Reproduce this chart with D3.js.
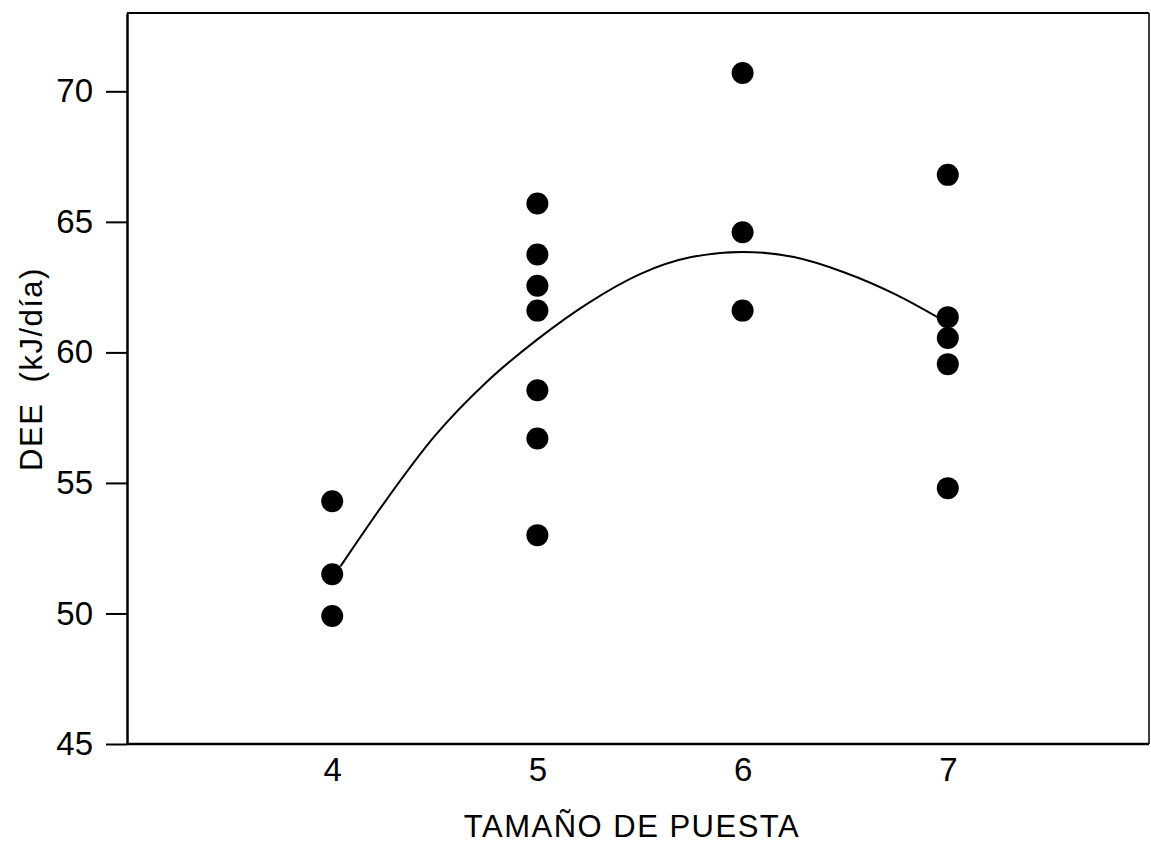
<!DOCTYPE html>
<html>
<head>
<meta charset="utf-8">
<script src="https://cdn.jsdelivr.net/npm/d3@7"></script>
<style>
  html, body { margin: 0; padding: 0; background: #fff; }
  svg { display: block; font-family: "Liberation Sans", Arial, sans-serif; }
</style>
</head>
<body>
<svg id="chart" width="1151" height="844"></svg>
<script>
// ---- data ----
const clutchSizes = [4, 5, 6, 7];
const dee4 = [54.3, 51.5, 49.9];
const dee5 = [65.7, 63.75, 62.55, 61.6, 58.55, 56.7, 53.0];
const dee6 = [70.7, 64.6, 61.6];
const dee7 = [66.8, 61.35, 60.55, 59.55, 54.8];
const fitX = [4.04, 4.25, 4.5, 4.75, 5.0, 5.25, 5.5, 5.75, 6.0, 6.25, 6.5, 6.75, 6.96];
const fitY = [51.8, 54.2, 56.8, 58.85, 60.5, 61.9, 63.0, 63.65, 63.85, 63.65, 63.05, 62.2, 61.3];
const yTicks = [45, 50, 55, 60, 65, 70];
const xTicks = [4, 5, 6, 7];
const xTitle = "TAMAÑO DE PUESTA";
const yTitle = "DEE  (kJ/día)";

// ---- layout ----
const mLeft = 127, mRight = 1149, mTop = 13, mBottom = 744;
const svg = d3.select("#chart");

const x = d3.scaleLinear().domain([3, 8]).range([mLeft, 1153]);
const y = d3.scaleLinear().domain([45, 73]).range([mBottom, mTop]);

const groups = [dee4, dee5, dee6, dee7];
const points = [];
groups.forEach((vals, i) => vals.forEach(v => points.push({x: clutchSizes[i], y: v})));

// frame (top and right)
svg.append("line").attr("x1", mLeft).attr("x2", mRight).attr("y1", mTop).attr("y2", mTop)
  .attr("stroke", "#000").attr("stroke-width", 2);
svg.append("line").attr("x1", mRight).attr("x2", mRight).attr("y1", mTop).attr("y2", mBottom)
  .attr("stroke", "#000").attr("stroke-width", 1.5);

// y axis
const yAxis = d3.axisLeft(y).tickValues(yTicks).tickFormat(d3.format("d"))
  .tickSize(21).tickPadding(13).tickSizeOuter(0);
const gy = svg.append("g").attr("transform", `translate(${mLeft},0)`).call(yAxis);
gy.select(".domain").attr("stroke", "#000").attr("stroke-width", 2.5);
gy.selectAll(".tick line").attr("stroke", "#000").attr("stroke-width", 2);
gy.selectAll(".tick text").attr("font-size", 33).attr("fill", "#000")
  .attr("font-family", "'Liberation Sans', Arial, sans-serif");

// x axis (no tick marks)
const xAxis = d3.axisBottom(x).tickValues(xTicks).tickFormat(d3.format("d"))
  .tickSize(0).tickPadding(14).tickSizeOuter(0);
const gx = svg.append("g").attr("transform", `translate(0,${mBottom})`).call(xAxis);
gx.select(".domain").attr("d", `M${mLeft},0H${mRight}`).attr("stroke", "#000").attr("stroke-width", 2.5);
gx.selectAll(".tick text").attr("font-size", 33).attr("fill", "#000")
  .attr("font-family", "'Liberation Sans', Arial, sans-serif");

// fitted curve
const fit = fitX.map((v, i) => [v, fitY[i]]);
svg.append("path").datum(fit)
  .attr("fill", "none").attr("stroke", "#000").attr("stroke-width", 2)
  .attr("d", d3.line().x(d => x(d[0])).y(d => y(d[1])).curve(d3.curveMonotoneX));

// points
svg.append("g").selectAll("circle").data(points).join("circle")
  .attr("cx", d => x(d.x)).attr("cy", d => y(d.y)).attr("r", 11).attr("fill", "#000");

// titles
svg.append("text").attr("x", 632).attr("y", 837).attr("text-anchor", "middle")
  .attr("font-size", 31).attr("letter-spacing", 1.5).attr("fill", "#000").text(xTitle);
svg.append("text").attr("transform", "translate(42,369) rotate(-90)")
  .attr("text-anchor", "middle").attr("font-size", 31).attr("letter-spacing", 1.5)
  .attr("fill", "#000").style("white-space", "pre").text(yTitle);
</script>
</body>
</html>
